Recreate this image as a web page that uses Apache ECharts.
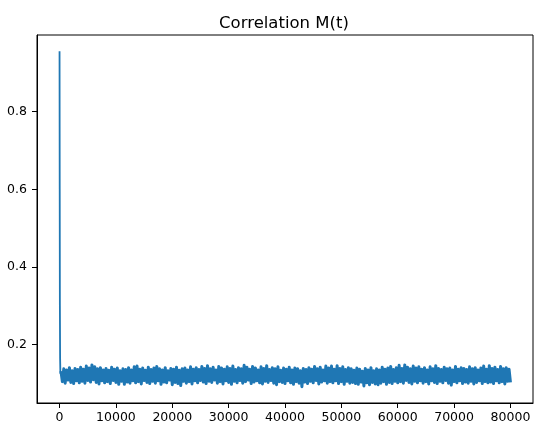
<!DOCTYPE html>
<html>
<head>
<meta charset="utf-8">
<script src="https://cdn.jsdelivr.net/npm/echarts@6/dist/echarts.min.js"></script>
<style>
  html, body { margin: 0; padding: 0; background: #fff; }
  #chart { width: 542px; height: 442px; }
</style>
</head>
<body>
<div id="chart"></div>
<script>
// initial fast decay of M(t)
const headT = [0, 30, 60, 100, 150];
const headM = [0.955, 0.60, 0.30, 0.165, 0.125];

// noisy plateau, sampled every bandStep from bandStart
const bandStart = 250;
const bandStep = 250;
const bandM = [
  0.132,0.105,0.138,0.101,0.135,0.109,0.141,0.103,0.133,0.100,0.139,0.107,0.136,0.102,0.142,0.106,
  0.137,0.101,0.145,0.108,0.140,0.104,0.148,0.110,0.143,0.103,0.138,0.099,0.141,0.107,0.135,0.102,
  0.139,0.105,0.134,0.100,0.142,0.108,0.137,0.103,0.140,0.098,0.133,0.106,0.138,0.098,0.136,0.104,
  0.141,0.101,0.135,0.107,0.143,0.102,0.145,0.105,0.137,0.099,0.140,0.108,0.134,0.103,0.142,0.100,
  0.136,0.106,0.140,0.101,0.144,0.107,0.138,0.098,0.135,0.104,0.141,0.102,0.133,0.109,0.139,0.097,
  0.137,0.103,0.142,0.100,0.134,0.095,0.138,0.106,0.140,0.101,0.135,0.105,0.143,0.099,0.137,0.107,
  0.141,0.102,0.136,0.108,0.144,0.104,0.139,0.100,0.146,0.106,0.138,0.103,0.142,0.109,0.135,0.101,
  0.144,0.105,0.140,0.099,0.137,0.107,0.143,0.103,0.139,0.098,0.145,0.106,0.136,0.102,0.141,0.108,
  0.138,0.101,0.147,0.105,0.142,0.109,0.137,0.100,0.144,0.104,0.140,0.107,0.135,0.102,0.143,0.099,
  0.139,0.106,0.146,0.103,0.136,0.108,0.141,0.101,0.138,0.097,0.143,0.105,0.134,0.103,0.140,0.100,
  0.137,0.107,0.142,0.102,0.135,0.098,0.140,0.105,0.138,0.101,0.133,0.092,0.139,0.104,0.136,0.100,
  0.141,0.106,0.137,0.102,0.144,0.108,0.138,0.099,0.142,0.104,0.135,0.107,0.145,0.101,0.140,0.105,
  0.145,0.102,0.137,0.107,0.146,0.100,0.139,0.105,0.143,0.098,0.136,0.106,0.141,0.101,0.138,0.103,
  0.134,0.100,0.140,0.098,0.137,0.104,0.132,0.094,0.139,0.102,0.135,0.097,0.141,0.103,0.133,0.099,
  0.138,0.097,0.135,0.101,0.142,0.105,0.137,0.098,0.140,0.103,0.144,0.100,0.136,0.106,0.141,0.102,
  0.147,0.105,0.139,0.101,0.148,0.108,0.142,0.103,0.138,0.099,0.145,0.106,0.140,0.102,0.143,0.107,
  0.137,0.101,0.141,0.105,0.135,0.099,0.143,0.107,0.138,0.103,0.146,0.100,0.139,0.106,0.136,0.102,
  0.142,0.108,0.138,0.101,0.140,0.096,0.135,0.105,0.144,0.102,0.137,0.107,0.141,0.100,0.139,0.104,
  0.136,0.101,0.143,0.106,0.138,0.099,0.141,0.103,0.135,0.107,0.140,0.100,0.145,0.105,0.137,0.102,
  0.146,0.104,0.139,0.100,0.142,0.107,0.136,0.102,0.144,0.105,0.138,0.099,0.141,0.106,0.137,0.103
];

const xTicks = [0, 10000, 20000, 30000, 40000, 50000, 60000, 70000, 80000];
const yTicks = [0.2, 0.4, 0.6, 0.8];

let bandPoints = bandM.map((m, i) => [bandStart + i * bandStep, m]);
let headPoints = headT.map((t, i) => [t, headM[i]]);
headPoints.push(bandPoints[0]);

const font = 'DejaVu Sans';
const blue = '#1f77b4';
const chart = echarts.init(document.getElementById('chart'), null, { renderer: 'canvas' });

chart.setOption({
  animation: false,
  backgroundColor: '#fff',
  title: {
    text: 'Correlation M(t)',
    left: 279,
    top: 10,
    textAlign: 'center',
    textStyle: { fontFamily: font, fontSize: 16.5, fontWeight: 'normal', color: '#000' }
  },
  grid: {
    left: 37, right: 9, top: 35, bottom: 39,
    show: true, borderColor: '#000', borderWidth: 1, backgroundColor: 'transparent'
  },
  xAxis: {
    type: 'value',
    min: -4000,
    max: 84000,
    splitLine: { show: false },
    axisLine: { show: true, onZero: false, lineStyle: { color: '#000', width: 1 } },
    axisTick: { show: true, length: 5, customValues: xTicks, lineStyle: { color: '#000' } },
    axisLabel: {
      customValues: xTicks, margin: 8, color: '#000',
      fontFamily: font, fontSize: 12.5,
      formatter: v => String(v)
    }
  },
  yAxis: {
    type: 'value',
    min: 0.05,
    max: 0.997,
    splitLine: { show: false },
    axisLine: { show: true, onZero: false, lineStyle: { color: '#000', width: 1 } },
    axisTick: { show: true, length: 5, customValues: yTicks, lineStyle: { color: '#000' } },
    axisLabel: {
      customValues: yTicks, margin: 10, color: '#000',
      fontFamily: font, fontSize: 12.5,
      formatter: v => v.toFixed(1)
    }
  },
  series: [{
    type: 'line',
    data: headPoints,
    showSymbol: false,
    symbol: 'none',
    lineStyle: { color: blue, width: 1.8 }
  }, {
    type: 'line',
    data: bandPoints,
    showSymbol: false,
    symbol: 'none',
    lineStyle: { color: blue, width: 3, join: 'round' }
  }]
});
</script>
</body>
</html>
